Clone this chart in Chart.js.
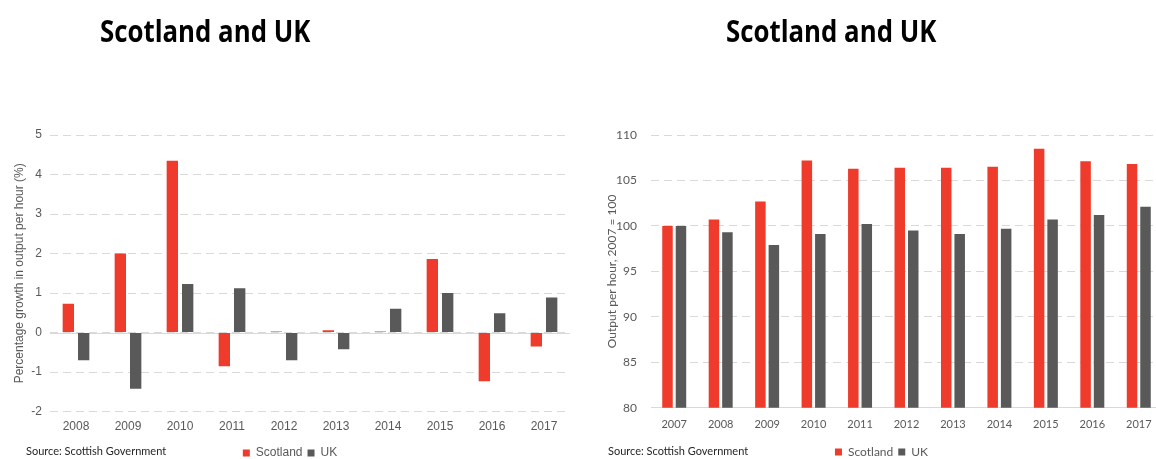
<!DOCTYPE html>
<html>
<head>
<meta charset="utf-8">
<title>Scotland and UK productivity</title>
<script src="https://cdn.jsdelivr.net/npm/chart.js@4.4.0/dist/chart.umd.min.js"></script>
<style>
  html, body { margin: 0; padding: 0; background: #fff; width: 1156px; height: 459px; overflow: hidden; }
  .panel { position: absolute; top: 0; }
  .title { position: absolute; top: 10px; font: bold 30px "Open Sans", sans-serif; color: #000; white-space: nowrap;
           transform: scaleX(0.86); transform-origin: 0 0; }
  .source { position: absolute; top: 444px; font: 11px Lato, sans-serif; color: #262626; white-space: nowrap; }
</style>
</head>
<body>
<div class="panel" style="left:0"><canvas id="growth" width="580" height="470"></canvas></div>
<div class="panel" style="left:590px"><canvas id="level" width="580" height="470"></canvas></div>
<div class="title" style="left:100px">Scotland and UK</div>
<div class="title" style="left:726px">Scotland and UK</div>
<div class="source" style="left:26px">Source: Scottish Government</div>
<div class="source" style="left:608px">Source: Scottish Government</div>

<script>
// annual growth in output per hour, %
const growthYears = ['2008', '2009', '2010', '2011', '2012', '2013', '2014', '2015', '2016', '2017'];
const growthScotland = [0.73, 2.0, 4.35, -0.85, 0.03, 0.06, 0.03, 1.86, -1.23, -0.35];
const growthUK = [-0.70, -1.42, 1.23, 1.12, -0.70, -0.42, 0.60, 1.0, 0.49, 0.89];

// output per hour index, 2007 = 100
const levelYears = ['2007', '2008', '2009', '2010', '2011', '2012', '2013', '2014', '2015', '2016', '2017'];
const levelScotland = [100, 100.7, 102.7, 107.2, 106.3, 106.4, 106.4, 106.5, 108.5, 107.1, 106.8];
const levelUK = [100, 99.3, 97.9, 99.1, 100.2, 99.5, 99.1, 99.7, 100.7, 101.2, 102.1];

const RED = '#ee3b2c';
const GREY = '#595959';
const GRID = '#d9d9d9';

// solid line across the plot at y = 0
const zeroLine = {
  id: 'zeroLine',
  beforeDatasetsDraw(chart) {
    const { ctx, chartArea } = chart;
    const y = Math.round(chart.scales.y.getPixelForValue(0)) + 0.5;
    ctx.save();
    ctx.strokeStyle = GRID;
    ctx.lineWidth = 1;
    ctx.beginPath();
    ctx.moveTo(chartArea.left, y);
    ctx.lineTo(chartArea.right, y);
    ctx.stroke();
    ctx.restore();
  }
};

function bars(label, data, color, cp, bp) {
  return {
    label: label,
    data: data,
    backgroundColor: color,
    borderWidth: 0,
    categoryPercentage: cp,
    barPercentage: bp
  };
}

function legendOpts(font, gap) {
  return {
    position: 'bottom',
    labels: {
      boxWidth: 7,
      boxHeight: 7,
      padding: gap,
      color: '#595959',
      font: font
    }
  };
}

Chart.defaults.animation = false;

new Chart(document.getElementById('growth'), {
  type: 'bar',
  data: {
    labels: growthYears,
    datasets: [
      bars('Scotland', growthScotland, RED, 0.59, 0.74),
      bars('UK', growthUK, GREY, 0.59, 0.74)
    ]
  },
  options: {
    responsive: false,
    layout: { padding: { top: 135, right: 10, left: 10, bottom: 1 } },
    plugins: {
      legend: legendOpts({ family: 'Liberation Sans', size: 12 }, 5),
      tooltip: { enabled: false }
    },
    scales: {
      x: {
        grid: { display: false, drawTicks: false },
        border: { display: false },
        ticks: { color: '#595959', padding: 8, font: { family: 'Liberation Sans', size: 12 } }
      },
      y: {
        min: -2,
        max: 5,
        ticks: { stepSize: 1, color: '#595959', padding: 8, font: { family: 'Liberation Sans', size: 12 } },
        grid: { color: GRID, drawTicks: false },
        border: { display: false, dash: [8, 5] },
        title: {
          display: true,
          text: 'Percentage growth in output per hour (%)',
          color: '#595959',
          font: { family: 'Liberation Sans', size: 12 },
          padding: 2
        },
        afterFit(scale) { scale.width = 40; }
      }
    }
  },
  plugins: [zeroLine]
});

new Chart(document.getElementById('level'), {
  type: 'bar',
  data: {
    labels: levelYears,
    datasets: [
      bars('Scotland', levelScotland, RED, 0.58, 0.78),
      bars('UK', levelUK, GREY, 0.58, 0.78)
    ]
  },
  options: {
    responsive: false,
    layout: { padding: { top: 135, right: 8, left: 11, bottom: 2 } },
    plugins: {
      legend: legendOpts({ family: 'Lato', size: 12 }, 5),
      tooltip: { enabled: false }
    },
    scales: {
      x: {
        grid: { display: false, drawTicks: false },
        border: { display: true, color: GRID },
        ticks: { color: '#595959', padding: 10, font: { family: 'Lato', size: 11 } }
      },
      y: {
        min: 80,
        max: 110,
        ticks: { stepSize: 5, color: '#595959', padding: 14, font: { family: 'Lato', size: 12 } },
        grid: { color: GRID, drawTicks: false },
        border: { display: false, dash: [8, 5] },
        title: {
          display: true,
          text: 'Output per hour, 2007 = 100',
          color: '#595959',
          font: { family: 'Lato', size: 12 },
          padding: 4
        },
        afterFit(scale) { scale.width = 50; }
      }
    }
  }
});
</script>
</body>
</html>
